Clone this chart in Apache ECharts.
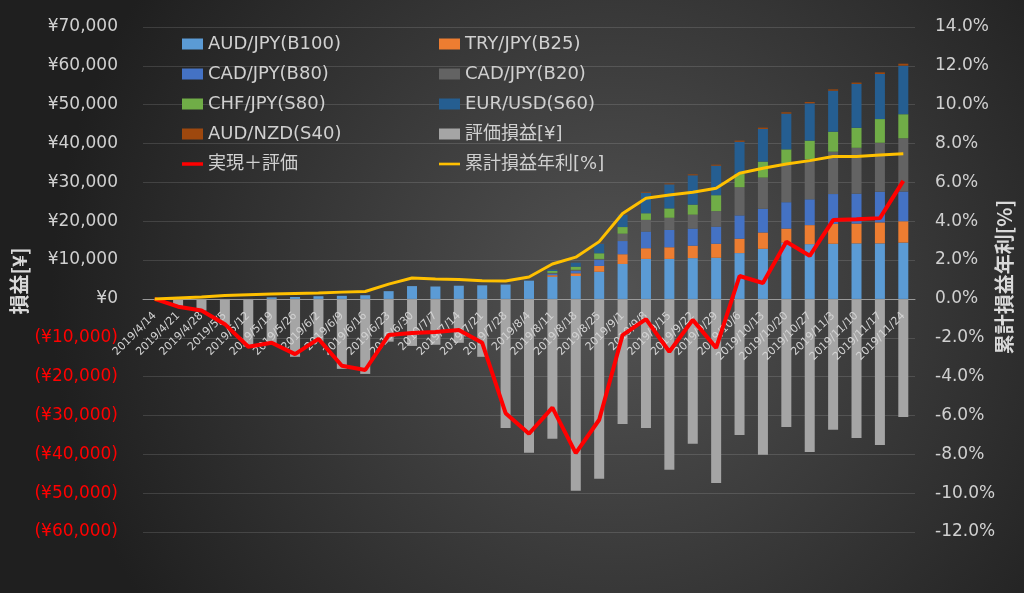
<!DOCTYPE html>
<html>
<head>
<meta charset="utf-8">
<script src="https://cdn.jsdelivr.net/npm/echarts@6/dist/echarts.min.js"></script>
<style>
  html, body { margin: 0; padding: 0; background: #2a2a2a; }
  #main { width: 1024px; height: 593px; }
</style>
</head>
<body>
<div id="main"></div>
<script>
// 週ごとの日付
const dates = ['2019/4/14','2019/4/21','2019/4/28','2019/5/5','2019/5/12','2019/5/19','2019/5/26','2019/6/2','2019/6/9','2019/6/16','2019/6/23','2019/6/30','2019/7/7','2019/7/14','2019/7/21','2019/7/28','2019/8/4','2019/8/11','2019/8/18','2019/8/25','2019/9/1','2019/9/8','2019/9/15','2019/9/22','2019/9/29','2019/10/6','2019/10/13','2019/10/20','2019/10/27','2019/11/3','2019/11/10','2019/11/17','2019/11/24'];

// 実現損益（通貨ペア別）
const audJpy = [0,0,0,0,0,400,500,700,800,950,2000,3300,3200,3400,3500,3700,4700,5700,5900,7000,9000,10300,10300,10500,10600,11800,12900,14500,14100,14200,14300,14300,14500];
const tryJpy = [0,0,0,0,0,0,0,0,0,0,0,0,0,0,0,0,0,400,700,1500,2500,2750,3000,3200,3600,3700,4200,3600,4900,5100,5100,5400,5500];
const cadJpy80 = [0,0,0,0,0,0,0,0,0,0,0,0,0,0,0,0,0,400,600,1600,3400,4300,4450,4400,4400,6000,6100,6800,6650,7700,7700,7900,7650];
const cadJpy20 = [0,0,0,0,0,0,0,0,0,0,0,0,0,0,0,0,0,200,300,200,1900,3000,3150,3600,4000,7250,8050,10000,10300,10900,11800,12600,13700];
const chfJpy = [0,0,0,0,0,0,0,0,0,0,0,0,0,0,0,0,0,500,800,1450,1700,1700,2400,2570,4100,3400,4100,3600,4800,5150,5150,6100,6200];
const eurUsd = [0,0,0,0,0,0,0,0,0,0,0,0,0,0,0,0,0,400,1100,2550,3200,5300,6200,7550,7600,8300,8400,9200,9600,10550,11300,11600,12500];
const audNzd = [0,0,0,0,0,0,0,0,0,0,0,0,0,0,0,0,0,50,50,100,100,200,200,250,250,300,340,340,340,340,340,430,500];

// 評価損益
const hyoka = [0,-1800,-3000,-6700,-12300,-11800,-14900,-11000,-18000,-19300,-11000,-12100,-11800,-11300,-14900,-33200,-39600,-36000,-49400,-46300,-32200,-33200,-44000,-37300,-47400,-35000,-40100,-33000,-39400,-33700,-35800,-37600,-30400];

// 実現＋評価
const total = [0,-2000,-3000,-6500,-12300,-11300,-14200,-10300,-17200,-18300,-9300,-8800,-8500,-8000,-11300,-29400,-34700,-28000,-39700,-31100,-9300,-5200,-13600,-5400,-12600,5900,4100,14700,11100,20300,20500,20800,30400];

// 累計損益年利[%]
const nenri = [0,0.05,0.1,0.17,0.22,0.25,0.28,0.31,0.35,0.38,0.76,1.08,1.02,1.0,0.94,0.92,1.13,1.8,2.15,2.95,4.4,5.18,5.35,5.49,5.7,6.47,6.73,6.95,7.12,7.33,7.33,7.41,7.48];

const chart = echarts.init(document.getElementById('main'));

const font = "'DejaVu Sans', 'Noto Sans CJK JP', sans-serif";
const txt = '#d0d0d0';

// グリッド（ゼロ位置にX軸を置くためのオフセット計算用）
const gridTop = 27, gridBottom = 61, plotH = 593 - gridTop - gridBottom;
const zeroOffset = -plotH * 6 / 13;

function bar(name, data, color) {
  return {
    name: name,
    type: 'bar',
    stack: 'all',
    barWidth: 10,
    z: 1,
    data: data,
    itemStyle: { color: color }
  };
}

const legendText = { color: txt, fontSize: 18, lineHeight: 20, fontFamily: font };

chart.setOption({
  backgroundColor: {
    type: 'radial', x: 0.6, y: 0.5, r: 0.95,
    colorStops: [
      { offset: 0, color: '#535353' },
      { offset: 1, color: '#1f1f1f' }
    ]
  },
  textStyle: { fontFamily: font },
  animation: false,
  grid: { left: 143, right: 109, top: gridTop, bottom: gridBottom },
  legend: [
    {
      orient: 'vertical', left: 177, top: 29,
      itemWidth: 21, itemHeight: 11, itemGap: 10,
      textStyle: legendText,
      data: [
        { name: 'AUD/JPY(B100)', icon: 'rect' },
        { name: 'CAD/JPY(B80)', icon: 'rect' },
        { name: 'CHF/JPY(S80)', icon: 'rect' },
        { name: 'AUD/NZD(S40)', icon: 'rect' },
        { name: '実現＋評価', icon: 'path://M0,0L24,0L24,4L0,4Z' }
      ]
    },
    {
      orient: 'vertical', left: 434, top: 29,
      itemWidth: 21, itemHeight: 11, itemGap: 10,
      textStyle: legendText,
      data: [
        { name: 'TRY/JPY(B25)', icon: 'rect' },
        { name: 'CAD/JPY(B20)', icon: 'rect' },
        { name: 'EUR/USD(S60)', icon: 'rect' },
        { name: '評価損益[¥]', icon: 'rect' },
        { name: '累計損益年利[%]', icon: 'path://M0,0L24,0L24,3L0,3Z' }
      ]
    }
  ],
  graphic: [
    {
      type: 'text', x: 19, y: 281, rotation: Math.PI / 2,
      style: { text: '損益[¥]', fill: '#d9d9d9', font: "bold 20px 'Noto Sans CJK JP'", align: 'center', verticalAlign: 'middle' }
    },
    {
      type: 'text', x: 1004, y: 277, rotation: Math.PI / 2,
      style: { text: '累計損益年利[%]', fill: '#d9d9d9', font: "bold 20px 'Noto Sans CJK JP'", align: 'center', verticalAlign: 'middle' }
    }
  ],
  xAxis: {
    type: 'category',
    data: dates,
    z: 2,
    offset: zeroOffset,
    axisLine: { onZero: false, lineStyle: { color: '#9a9a9a', width: 1 } },
    axisTick: { show: false },
    axisLabel: { rotate: 45, interval: 0, fontSize: 11, color: '#d2d2d2', margin: 15, fontFamily: font },
    splitLine: { show: false }
  },
  yAxis: [
    {
      type: 'value', min: -60000, max: 70000, interval: 10000,
      axisLine: { show: false }, axisTick: { show: false },
      splitLine: { lineStyle: { color: 'rgba(255,255,255,0.13)', width: 1 } },
      axisLabel: {
        fontSize: 17, margin: 25, fontFamily: font,
        color: v => (v < 0 ? '#ff0000' : txt),
        formatter: v => v < 0 ? '(¥' + Math.abs(v).toLocaleString('en-US') + ')' : '¥' + v.toLocaleString('en-US')
      }
    },
    {
      type: 'value', min: -12, max: 14, interval: 2,
      axisLine: { show: false }, axisTick: { show: false },
      splitLine: { show: false },
      axisLabel: {
        fontSize: 17, margin: 20, color: txt, fontFamily: font,
        formatter: v => v.toFixed(1) + '%'
      }
    }
  ],
  series: [
    bar('AUD/JPY(B100)', audJpy, '#5b9bd5'),
    bar('TRY/JPY(B25)', tryJpy, '#ed7d31'),
    bar('CAD/JPY(B80)', cadJpy80, '#4472c4'),
    bar('CAD/JPY(B20)', cadJpy20, '#636363'),
    bar('CHF/JPY(S80)', chfJpy, '#70ad47'),
    bar('EUR/USD(S60)', eurUsd, '#255e91'),
    bar('AUD/NZD(S40)', audNzd, '#9e480e'),
    bar('評価損益[¥]', hyoka, '#a5a5a5'),
    {
      name: '実現＋評価', type: 'line', data: total, z: 3,
      symbol: 'none', lineStyle: { color: '#ff0000', width: 4 }, itemStyle: { color: '#ff0000' }
    },
    {
      name: '累計損益年利[%]', type: 'line', yAxisIndex: 1, data: nenri, z: 3,
      symbol: 'none', lineStyle: { color: '#ffc000', width: 3 }, itemStyle: { color: '#ffc000' }
    }
  ]
});
</script>
</body>
</html>
